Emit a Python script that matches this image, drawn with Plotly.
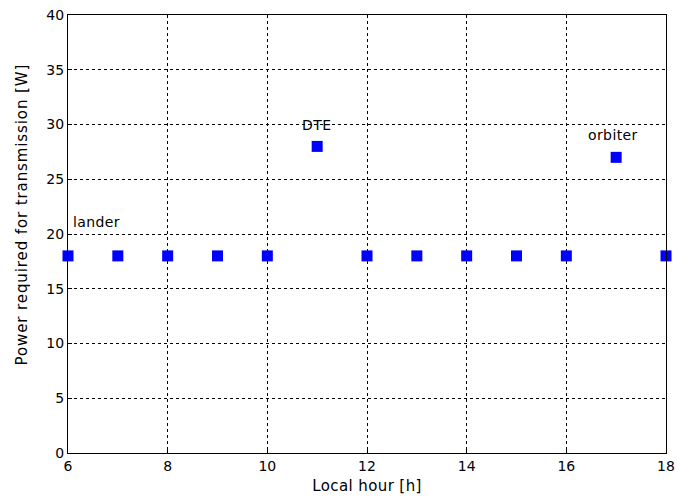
import plotly.graph_objects as go

hours = [6, 7, 8, 9, 10, 11, 12, 13, 14, 15, 16, 17, 18]
power = [18, 18, 18, 18, 18, 28, 18, 18, 18, 18, 18, 27, 18]
label_text = ["lander", "DTE", "orbiter"]
label_x = [6.06, 10.98, 16.94]
label_y = [21.1, 30.0, 29.0]
label_anchor = ["left", "center", "center"]
x_ticks = [6, 8, 10, 12, 14, 16, 18]
y_ticks = [0, 5, 10, 15, 20, 25, 30, 35, 40]
x_title = "Local hour [h]"
y_title = "Power required for transmission [W]"

FONT = "DejaVu Sans"
FS = 14
fig = go.Figure()
fig.add_trace(go.Scatter(
    x=hours, y=power, mode="markers",
    marker=dict(symbol="square", size=11, color="#0000ff", line=dict(width=0)),
    showlegend=False, cliponaxis=False,
))
for t, x, y, a in zip(label_text, label_x, label_y, label_anchor):
    fig.add_annotation(x=x, y=y, text='<span style="letter-spacing:0.4px">' + t + '</span>',
                       showarrow=False, xanchor=a, yanchor="middle",
                       font=dict(size=FS, color="black", family=FONT))

# y-axis title placed as rotated annotation
fig.add_annotation(xref="paper", yref="paper", x=0, y=0.5445, xshift=-46,
                   text='<span style="letter-spacing:0.9px">' + y_title + '</span>',
                   textangle=-90, showarrow=False, xanchor="center", yanchor="middle",
                   font=dict(size=15, color="black", family=FONT))

axis_common = dict(
    showline=True, linecolor="black", linewidth=1, mirror=True,
    showgrid=True, gridcolor="black", gridwidth=1, griddash="dot",
    ticks="inside", ticklen=4, tickcolor="black", zeroline=False, automargin=False,
    tickfont=dict(size=FS, color="black", family=FONT),
)
fig.update_xaxes(range=[6, 18], tickvals=x_ticks,
                 title=dict(text='<span style="letter-spacing:0.4px">' + x_title + '</span>', standoff=7,
                            font=dict(size=15, color="black", family=FONT)), **axis_common)
fig.update_yaxes(range=[0, 40], tickvals=y_ticks, **axis_common)
fig.update_layout(
    width=677, height=500,
    margin=dict(l=68, r=11, t=15, b=47),
    plot_bgcolor="white", paper_bgcolor="white",
)
fig.write_html("out.html", config={"displayModeBar": False},
               post_script="document.body.style.margin='0';document.body.style.overflow='hidden';")
